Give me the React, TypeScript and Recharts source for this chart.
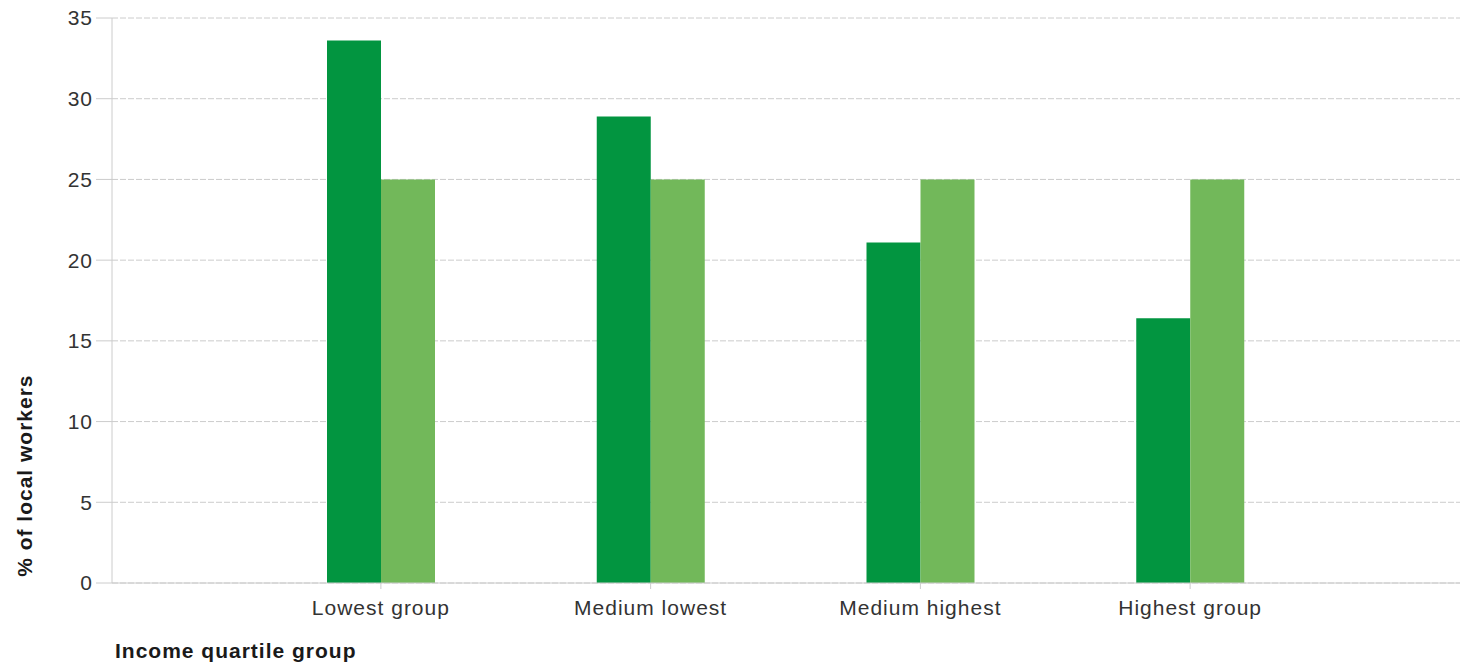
import React from 'react';
import {
  BarChart,
  Bar,
  XAxis,
  YAxis,
  CartesianGrid,
  Label,
} from 'recharts';

const groups = ['Lowest group', 'Medium lowest', 'Medium highest', 'Highest group'];
const localShare = [33.6, 28.9, 21.1, 16.4];
const evenShare = [25, 25, 25, 25];
const yTicks = [0, 5, 10, 15, 20, 25, 30, 35];

const data = groups.map((group, i) => ({
  group,
  local: localShare[i],
  even: evenShare[i],
}));

const font = '"Liberation Sans", Arial, sans-serif';
const textColor = '#333333';
const axisColor = '#cccccc';

const YTitle = (props: any) => {
  const { viewBox } = props;
  const cx = viewBox.x + 25;
  const cy = viewBox.y + viewBox.height * 0.81;
  return (
    <text
      x={cx}
      y={cy}
      transform={`rotate(-90, ${cx}, ${cy})`}
      textAnchor="middle"
      dominantBaseline="central"
      fontSize={21}
      fontWeight="bold"
      fill="#1a1a1a"
    >
      % of local workers
    </text>
  );
};

const XTitle = (props: any) => {
  const { viewBox } = props;
  return (
    <text
      x={viewBox.x + 3}
      y={viewBox.y + 75}
      textAnchor="start"
      fontSize={21}
      fontWeight="bold"
      fill="#1a1a1a"
    >
      Income quartile group
    </text>
  );
};

export default function App() {
  return (
    <div
      style={{
        position: 'absolute',
        left: 0,
        top: 0,
        width: 1469,
        height: 666,
        background: '#fff',
        fontFamily: font,
        letterSpacing: '1px',
      }}
    >
      <BarChart
        width={1469}
        height={666}
        data={data}
        margin={{ top: 18, right: 9, left: 0, bottom: 23 }}
        barGap={0}
      >
        <CartesianGrid
          vertical={false}
          stroke={axisColor}
          strokeDasharray="6 2"
        />
        <XAxis
          dataKey="group"
          height={60}
          padding={{ left: 134, right: 135 }}
          stroke={axisColor}
          tickLine={{ stroke: axisColor }}
          tickSize={6}
          tickMargin={11}
          tick={{ fill: textColor, fontSize: 21 }}
          interval={0}
        >
          <Label content={<XTitle />} />
        </XAxis>
        <YAxis
          width={112}
          domain={[0, 35]}
          ticks={yTicks}
          stroke={axisColor}
          tickLine={{ stroke: axisColor }}
          tickSize={16}
          tickMargin={3}
          tick={{ fill: textColor, fontSize: 21 }}
        >
          <Label content={<YTitle />} />
        </YAxis>
        <Bar dataKey="local" fill="#029540" barSize={54} isAnimationActive={false} />
        <Bar dataKey="even" fill="#72B85A" barSize={54} isAnimationActive={false} />
      </BarChart>
    </div>
  );
}
